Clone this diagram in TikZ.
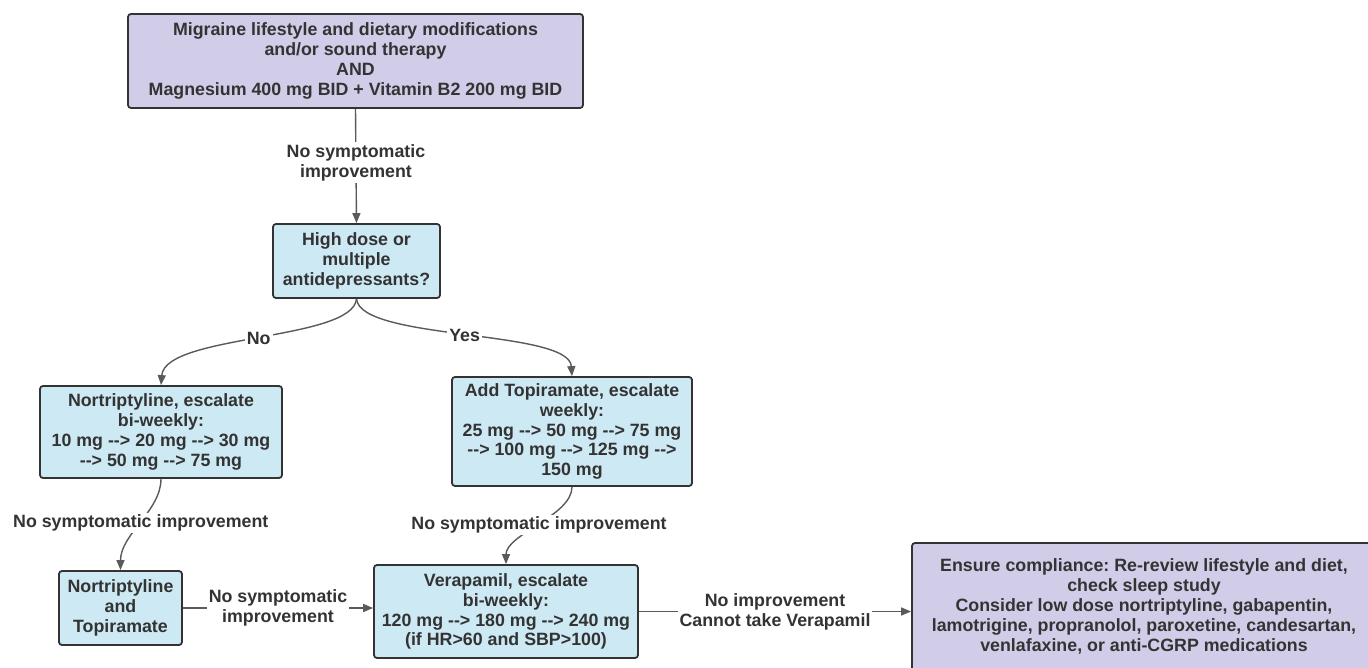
\documentclass[tikz,border=0pt]{standalone}
\usepackage{fontspec}
\setmainfont{Liberation Sans}
\usetikzlibrary{arrows.meta}
\frenchspacing

\definecolor{lav}{HTML}{D1CCE8}
\definecolor{sky}{HTML}{CDE9F3}
\definecolor{ink}{HTML}{333333}
\definecolor{wire}{HTML}{5A5A5A}

\newcommand{\dto}{-{}->}

\begin{document}
\begin{tikzpicture}[x=1pt,y=-1pt,
        box/.style={draw=ink,line width=1.8pt,rounded corners=3pt,align=center,inner sep=0pt,text=ink,font=\bfseries\fontsize{17.8}{19.8}\selectfont},
        lavbox/.style={box,fill=lav},
        skybox/.style={box,fill=sky},
        lbl/.style={fill=white,align=center,inner sep=2pt,text=ink,font=\bfseries\fontsize{17.8}{19.8}\selectfont},
        link/.style={draw=wire,line width=1.4pt,-{Triangle[length=10pt,width=8pt]}}]
                \clip (0,0) rectangle (1368,668);
                \fill[white] (0,0) rectangle (1368,668);

                \node[lavbox,minimum width=455,minimum height=94] (M) at (355.5,61) {Migraine lifestyle and dietary modifications\\and/or sound therapy\\AND\\Magnesium 400 mg BID + Vitamin B2 200 mg BID};
                \node[skybox,minimum width=167,minimum height=74] (Q) at (356.5,261) {High dose or\\multiple\\antidepressants?};
                \node[skybox,minimum width=242,minimum height=92] (N) at (161,432) {Nortriptyline, escalate\\bi-weekly:\\10 mg \dto{} 20 mg \dto{} 30 mg\\\dto{} 50 mg \dto{} 75 mg};
                \node[skybox,minimum width=240,minimum height=109] (T) at (572,431.5) {Add Topiramate, escalate\\weekly:\\25 mg \dto{} 50 mg \dto{} 75 mg\\\dto{} 100 mg \dto{} 125 mg \dto\\150 mg};
                \node[skybox,minimum width=123,minimum height=74] (NT) at (120.5,608) {Nortriptyline\\and\\Topiramate};
                \node[skybox,minimum width=264,minimum height=93] (V) at (506,611.5) {Verapamil, escalate\\bi-weekly:\\120 mg \dto{} 180 mg \dto{} 240 mg\\(if HR>60 and SBP>100)};
                \node[lavbox,minimum width=464,minimum height=159] (C) at (1144,622.5) {Ensure compliance: Re-review lifestyle and diet,\\check sleep study\\Consider low dose nortriptyline, gabapentin,\\lamotrigine, propranolol, paroxetine, candesartan,\\venlafaxine, or anti-CGRP medications\\[15pt]\mbox{}};

                \draw[link] (M.south) -- (Q.north) node[lbl,pos=0.47] {No symptomatic\\improvement};
                \draw[link] (Q.south) .. controls +(-4,42) and +(4,-51) .. (N.north) node[lbl,pos=0.5] {No};
                \draw[link] (Q.south) .. controls +(4,42) and +(-3,-47) .. (T.north) node[lbl,pos=0.5] {Yes};
                \draw[link] (N.south) .. controls +(0,32) and +(0,-36) .. (NT.north) node[lbl,pos=0.5] {No symptomatic improvement};
                \draw[link] (T.south) .. controls +(0,29) and +(0,-30) .. (V.north) node[lbl,pos=0.5] {No symptomatic improvement};
                \draw[link] (NT.east) -- (NT.east -| V.west) node[lbl,pos=0.5] {No symptomatic\\improvement};
                \draw[link] (V.east) -- (V.east -| C.west) node[lbl,pos=0.5] {No improvement\\Cannot take Verapamil};
\end{tikzpicture}
\end{document}
